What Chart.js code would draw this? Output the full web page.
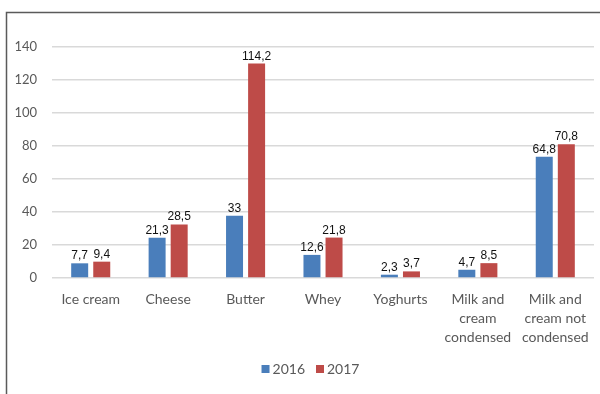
<!DOCTYPE html>
<html><head><meta charset="utf-8">
<script src="https://cdn.jsdelivr.net/npm/chart.js@4.4.0/dist/chart.umd.min.js"></script>
<style>html,body{margin:0;padding:0;background:#fff;overflow:hidden;} canvas{display:block;}</style>
</head><body>
<canvas id="c" width="600" height="394"></canvas>
<script>
const categories = [["Ice cream"],["Cheese"],["Butter"],["Whey"],["Yoghurts"],["Milk and","cream","condensed"],["Milk and","cream not","condensed"]];
const seriesNames = ["2016","2017"];
// bar heights as drawn in the reference
const values2016 = [8.9, 24.4, 37.8, 14.0, 2.0, 5.0, 73.5];
const values2017 = [9.9, 32.5, 130.0, 24.5, 4.0, 9.0, 81.0];
// data label texts as printed in the reference
const labels2016 = ["7,7","21,3","33","12,6","2,3","4,7","64,8"];
const labels2017 = ["9,4","28,5","114,2","21,8","3,7","8,5","70,8"];
const yMin = 0, yMax = 140, yStep = 20;

const colors = ["#4a7ebb", "#be4b48"];
const dataLabels = [labels2016, labels2017];

const framePlugin = {
  id: 'frame',
  afterDraw(chart) {
    const ctx = chart.ctx;
    ctx.save();
    ctx.strokeStyle = '#5a5a5a';
    ctx.lineWidth = 1.5;
    ctx.beginPath();
    ctx.moveTo(6.5, 394);
    ctx.lineTo(6.5, 12.5);
    ctx.lineTo(600, 12.5);
    ctx.stroke();
    ctx.restore();
  }
};

const labelPlugin = {
  id: 'valueLabels',
  afterDatasetsDraw(chart) {
    const ctx = chart.ctx;
    ctx.save();
    ctx.font = '12px "Liberation Sans", Arial, sans-serif';
    ctx.fillStyle = '#111';
    ctx.textAlign = 'center';
    ctx.textBaseline = 'alphabetic';
    chart.data.datasets.forEach((ds, i) => {
      const meta = chart.getDatasetMeta(i);
      meta.data.forEach((bar, j) => {
        ctx.fillText(dataLabels[i][j], bar.x, bar.y - 4);
      });
    });
    ctx.restore();
  }
};

const legendPlugin = {
  id: 'customLegend',
  afterDraw(chart) {
    const ctx = chart.ctx;
    ctx.save();
    ctx.font = '14px Lato, sans-serif';
    ctx.textBaseline = 'middle';
    ctx.textAlign = 'left';
    const box = 8, gap = 3, itemGap = 11;
    const items = chart.data.datasets.map(d => ({label: d.label, color: d.backgroundColor}));
    let total = 0;
    items.forEach((it, k) => { it.w = box + gap + ctx.measureText(it.label).width; total += it.w + (k ? itemGap : 0); });
    let x = 310.5 - total / 2;
    const yc = 369;
    items.forEach(it => {
      ctx.fillStyle = it.color;
      ctx.fillRect(x, yc - box / 2, box, box);
      ctx.fillStyle = '#595959';
      ctx.fillText(it.label, x + box + gap, yc + 0.5);
      x += it.w + itemGap;
    });
    ctx.restore();
  }
};

new Chart(document.getElementById('c'), {
  type: 'bar',
  data: {
    labels: categories,
    datasets: [
      { label: seriesNames[0], data: values2016, backgroundColor: colors[0], categoryPercentage: 0.57, barPercentage: 0.77 },
      { label: seriesNames[1], data: values2017, backgroundColor: colors[1], categoryPercentage: 0.57, barPercentage: 0.77 }
    ]
  },
  options: {
    responsive: false,
    animation: false,
    devicePixelRatio: 1,
    layout: { padding: { top: 47, right: 6, left: 0, bottom: 0 } },
    plugins: { legend: { display: false }, tooltip: { enabled: false } },
    scales: {
      x: {
        grid: { display: false },
        border: { display: false },
        ticks: {
          color: '#595959',
          font: { family: 'Lato', size: 14, lineHeight: 1.36 },
          padding: 4,
          maxRotation: 0,
          autoSkip: false
        },
        afterFit(scale) { scale.height = 116; }
      },
      y: {
        min: yMin, max: yMax,
        grid: { color: '#d9d9d9', lineWidth: 1.5, drawTicks: false },
        border: { display: false },
        ticks: {
          stepSize: yStep,
          color: '#595959',
          font: { family: 'Lato', size: 13 },
          padding: 15
        },
        afterFit(scale) { scale.width = 52; }
      }
    }
  },
  plugins: [framePlugin, labelPlugin, legendPlugin]
});
</script>
</body></html>
